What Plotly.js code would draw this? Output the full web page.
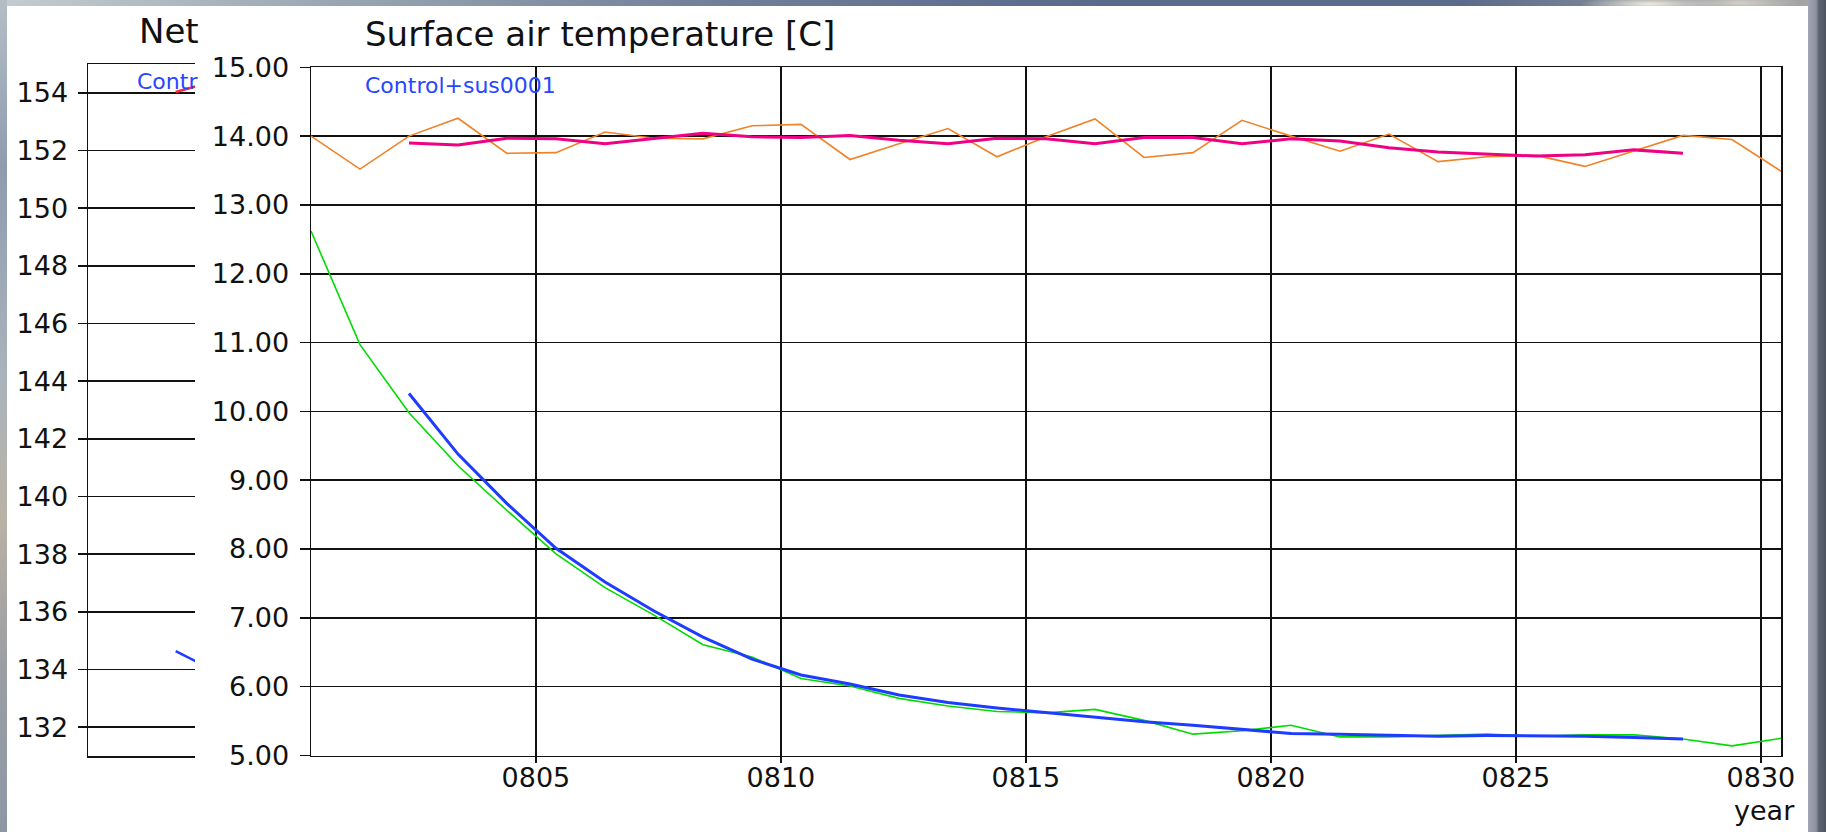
<!DOCTYPE html>
<html>
<head>
<meta charset="utf-8">
<script src="https://cdn.plot.ly/plotly-3.0.1.min.js"></script>
<style>
  html, body { margin: 0; padding: 0; width: 1826px; height: 832px; overflow: hidden; }
  body { position: relative; background: #7d8a9c; }
  /* desktop visible around the plot windows */
  #deskTop { position: absolute; left: 0; top: 0; width: 1826px; height: 6px;
    background:
      radial-gradient(ellipse 70px 8px at 1650px 4px, rgba(245,240,225,0.95), rgba(245,240,225,0)),
      radial-gradient(ellipse 60px 8px at 1740px 3px, rgba(220,215,205,0.9), rgba(220,215,205,0)),
      linear-gradient(90deg, #c3ccd0 0%, #9aa7b2 18%, #6f7e98 40%, #5a6a8c 60%, #5b6b8a 80%, #a9a9a6 100%); }
  #deskLeft { position: absolute; left: 0; top: 0; width: 7px; height: 832px;
    background: linear-gradient(180deg, #b4bec6 0%, #8e9cae 20%, #a9b3bb 45%, #b9b2a6 62%, #9c9ea4 80%, #8d97a4 100%); }
  #deskRight { position: absolute; left: 1808px; top: 0; width: 18px; height: 832px;
    background: linear-gradient(90deg, #9ea6b0 0%, #8a93a0 45%, #5d6470 60%, #4e5560 100%); }
  #win { position: absolute; left: 7px; top: 6px; width: 1801px; height: 826px; background: #ffffff; }
  #chart { position: absolute; left: 0; top: 0; width: 1826px; height: 832px; }
</style>
</head>
<body>
<div id="deskTop"></div>
<div id="deskLeft"></div>
<div id="deskRight"></div>
<div id="win"></div>
<div id="chart"></div>
<script>
// Annual means (time stamps fall mid-year)
const years = [800.41, 801.41, 802.41, 803.41, 804.41, 805.41, 806.41, 807.41, 808.41, 809.41,
               810.41, 811.41, 812.41, 813.41, 814.41, 815.41, 816.41, 817.41, 818.41, 819.41,
               820.41, 821.41, 822.41, 823.41, 824.41, 825.41, 826.41, 827.41, 828.41, 829.41,
               830.41];

// Control run, annual surface air temperature [C]
const ctrlAnnual = [14.00, 13.52, 14.00, 14.26, 13.75, 13.76, 14.06, 13.97, 13.96, 14.15,
                    14.17, 13.66, 13.89, 14.11, 13.70, 13.99, 14.25, 13.69, 13.76, 14.23,
                    14.00, 13.78, 14.03, 13.63, 13.70, 13.72, 13.56, 13.79, 14.01, 13.95,
                    13.49];

// Control+sus0001 run, annual surface air temperature [C]
const susAnnual = [12.62, 10.97, 9.98, 9.21, 8.56, 7.93, 7.44, 7.04, 6.61, 6.43,
                   6.12, 6.01, 5.83, 5.72, 5.64, 5.62, 5.67, 5.51, 5.31, 5.36,
                   5.44, 5.27, 5.27, 5.29, 5.31, 5.28, 5.30, 5.30, 5.24, 5.14,
                   5.25];

// Smoothed curves cover 0802..0828
const smoothYears = years.slice(2, 29);
const ctrlSmooth = [13.90, 13.87, 13.97, 13.96, 13.89, 13.97, 14.04, 13.99, 13.98, 14.01,
                    13.94, 13.89, 13.97, 13.96, 13.89, 13.98, 13.98, 13.89, 13.96, 13.93,
                    13.83, 13.77, 13.74, 13.71, 13.73, 13.80, 13.75];
const susSmooth = [10.26, 9.38, 8.66, 8.01, 7.52, 7.10, 6.72, 6.40, 6.17, 6.04,
                   5.88, 5.77, 5.69, 5.62, 5.55, 5.49, 5.44, 5.38, 5.32, 5.31,
                   5.30, 5.28, 5.29, 5.29, 5.28, 5.26, 5.24];

// Net radiation window behind (only its left edge shows)
const netYears = [802.41, 803.41];
const netCtrlSmooth = [154.03, 154.45];
const netSusSmooth = [134.64, 133.87];
const netTicks = [132, 134, 136, 138, 140, 142, 144, 146, 148, 150, 152, 154];

// Axis labels
const yearTicks = [805, 810, 815, 820, 825, 830];
const yearLabels = ['0805', '0810', '0815', '0820', '0825', '0830'];
const tempTicks = [5, 6, 7, 8, 9, 10, 11, 12, 13, 14, 15];

const W = 1826, H = 832;
const px = v => v / W;
const py = v => 1 - v / H;

const FONT = 'DejaVu Sans';
const INK = '#111111';
const ORANGE = 'rgb(240,130,40)';
const GREEN = 'rgb(0,220,0)';
const MAGENTA = 'rgb(240,0,130)';
const BLUE = 'rgb(30,60,255)';
const RED = 'rgb(250,40,60)';
const LABEL_BLUE = 'rgb(40,70,255)';

const traces = [
  // background window
  { x: netYears, y: netCtrlSmooth, xaxis: 'x', yaxis: 'y', mode: 'lines',
    line: { color: RED, width: 2.5 }, hoverinfo: 'skip' },
  { x: netYears, y: netSusSmooth, xaxis: 'x', yaxis: 'y', mode: 'lines',
    line: { color: BLUE, width: 2.5 }, hoverinfo: 'skip' },
  // foreground window
  { x: years, y: ctrlAnnual, xaxis: 'x2', yaxis: 'y2', mode: 'lines',
    line: { color: ORANGE, width: 1.6 } },
  { x: years, y: susAnnual, xaxis: 'x2', yaxis: 'y2', mode: 'lines',
    line: { color: GREEN, width: 1.6 } },
  { x: smoothYears, y: ctrlSmooth, xaxis: 'x2', yaxis: 'y2', mode: 'lines',
    line: { color: MAGENTA, width: 3 } },
  { x: smoothYears, y: susSmooth, xaxis: 'x2', yaxis: 'y2', mode: 'lines',
    line: { color: BLUE, width: 3 } }
];

const tickFont = { family: FONT, size: 27, color: INK };

const layout = {
  width: W, height: H,
  autosize: false,
  margin: { l: 0, r: 0, t: 0, b: 0, pad: 0 },
  paper_bgcolor: 'rgba(0,0,0,0)',
  plot_bgcolor: 'rgba(0,0,0,0)',
  showlegend: false,
  font: { family: FONT, color: INK },
  xaxis: {
    domain: [px(88), px(195)], anchor: 'y',
    range: [800.41, 802.85],
    showgrid: false, zeroline: false, showticklabels: false, ticks: '',
    showline: true, mirror: true, linecolor: INK, linewidth: 1.5
  },
  yaxis: {
    domain: [py(756), py(64)], anchor: 'x',
    range: [131, 155], tickvals: netTicks,
    showgrid: true, gridcolor: INK, gridwidth: 1.5, zeroline: false,
    showline: true, mirror: false, linecolor: INK, linewidth: 1.5,
    ticks: 'outside', ticklen: 9, tickwidth: 1.5, tickcolor: INK,
    tickfont: tickFont, ticklabelstandoff: 4
  },
  xaxis2: {
    domain: [px(311), px(1781)], anchor: 'y2',
    range: [800.41, 830.41], tickvals: yearTicks, ticktext: yearLabels,
    showgrid: true, gridcolor: INK, gridwidth: 1.5, zeroline: false,
    showline: true, mirror: true, linecolor: INK, linewidth: 1.5,
    ticks: 'outside', ticklen: 6, tickwidth: 1.5, tickcolor: INK,
    tickfont: tickFont, ticklabelstandoff: -8
  },
  yaxis2: {
    domain: [py(755.5), py(67.3)], anchor: 'x2',
    range: [5, 15], tickvals: tempTicks, tickformat: '.2f',
    showgrid: true, gridcolor: INK, gridwidth: 1.5, zeroline: false,
    showline: true, mirror: true, linecolor: INK, linewidth: 1.5,
    ticks: 'outside', ticklen: 10, tickwidth: 1.5, tickcolor: INK,
    tickfont: tickFont, ticklabelstandoff: 5
  },
  annotations: [
    { text: 'Net', xref: 'paper', yref: 'paper', x: px(137), y: py(31),
      xanchor: 'left', yanchor: 'middle', showarrow: false,
      font: { family: FONT, size: 34, color: INK } },
    { text: 'Contr', xref: 'paper', yref: 'paper', x: px(135), y: py(82),
      xanchor: 'left', yanchor: 'middle', showarrow: false,
      font: { family: FONT, size: 22, color: LABEL_BLUE } },
    { text: 'Surface air temperature [C]', xref: 'paper', yref: 'paper', x: px(363), y: py(34),
      xanchor: 'left', yanchor: 'middle', showarrow: false,
      font: { family: FONT, size: 34, color: INK } },
    { text: 'Control+sus0001', xref: 'paper', yref: 'paper', x: px(363), y: py(85.5),
      xanchor: 'left', yanchor: 'middle', showarrow: false,
      font: { family: FONT, size: 22, color: LABEL_BLUE } },
    { text: 'year', xref: 'paper', yref: 'paper', x: px(1797), y: py(810),
      xanchor: 'right', yanchor: 'middle', showarrow: false,
      font: { family: FONT, size: 27, color: INK } }
  ]
};

Plotly.newPlot('chart', traces, layout, { staticPlot: true, displayModeBar: false });
</script>
</body>
</html>
